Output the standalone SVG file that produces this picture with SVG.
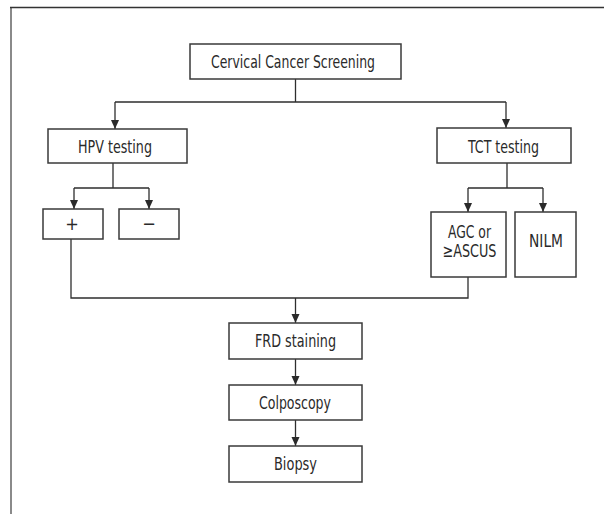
<svg xmlns="http://www.w3.org/2000/svg" width="604" height="514" viewBox="0 0 604 514">
<style>
.box{fill:#fff;stroke:#3a3a3a;stroke-width:1.5}
.lbl{font-family:"Liberation Sans Narrow","DejaVu Sans Condensed","Liberation Sans",Arial,sans-serif;font-size:18px;fill:#2a2a2a;text-anchor:middle}
.con{fill:none;stroke:#2e2e2e;stroke-width:1.3}
</style>
<defs>
<marker id="ah" markerUnits="userSpaceOnUse" markerWidth="10" markerHeight="10" refX="9" refY="4" orient="auto">
<path d="M0,0 L9,4 L0,8 Z" fill="#2a2a2a"/>
</marker>
</defs>
<rect width="604" height="514" fill="#fff"/>
<g id="frame">
<line x1="11" y1="7" x2="11" y2="514" stroke="#8a8a8a" stroke-width="2"/>
<line x1="10" y1="7.5" x2="604" y2="7.5" stroke="#333" stroke-width="1.5"/>
</g>
<g id="connectors">
<path class="con" d="M295.5 79 V102 M115 102 H506"/>
<path class="con" d="M115 102 V129" marker-end="url(#ah)"/>
<path class="con" d="M506 102 V128" marker-end="url(#ah)"/>
<path class="con" d="M113 163 V188 M74 188 H149"/>
<path class="con" d="M74 188 V209" marker-end="url(#ah)"/>
<path class="con" d="M149 188 V209" marker-end="url(#ah)"/>
<path class="con" d="M507 163 V188 M468 188 H543"/>
<path class="con" d="M468 188 V212" marker-end="url(#ah)"/>
<path class="con" d="M543 188 V212" marker-end="url(#ah)"/>
<path class="con" d="M71 239 V298 H468 V277"/>
<path class="con" d="M295.5 298 V323" marker-end="url(#ah)"/>
<path class="con" d="M295.5 359 V385" marker-end="url(#ah)"/>
<path class="con" d="M295.5 420 V446" marker-end="url(#ah)"/>
</g>
<g id="screening">
<rect class="box" x="190" y="44" width="211" height="35"/>
<text class="lbl" x="293" y="68" textLength="164" lengthAdjust="spacingAndGlyphs">Cervical Cancer Screening</text>
</g>
<g id="hpv">
<rect class="box" x="48" y="129" width="139" height="34"/>
<text class="lbl" x="115" y="153" textLength="74" lengthAdjust="spacingAndGlyphs">HPV testing</text>
</g>
<g id="tct">
<rect class="box" x="437" y="128" width="134" height="35"/>
<text class="lbl" x="503.5" y="153" textLength="71" lengthAdjust="spacingAndGlyphs">TCT testing</text>
</g>
<g id="pos">
<rect class="box" x="43" y="209" width="60" height="30"/>
<text class="lbl" x="72" y="230">+</text>
</g>
<g id="neg">
<rect class="box" x="119" y="209" width="60" height="30"/>
<text class="lbl" x="149" y="230">−</text>
</g>
<g id="agc">
<rect class="box" x="431" y="212" width="75" height="65"/>
<text class="lbl" x="469.5" y="238" textLength="43" lengthAdjust="spacingAndGlyphs">AGC or</text>
<text class="lbl" x="469.5" y="257" textLength="54" lengthAdjust="spacingAndGlyphs">≥ASCUS</text>
</g>
<g id="nilm">
<rect class="box" x="515" y="212" width="61" height="65"/>
<text class="lbl" x="546" y="247" textLength="34" lengthAdjust="spacingAndGlyphs">NILM</text>
</g>
<g id="frd">
<rect class="box" x="229" y="323" width="133" height="36"/>
<text class="lbl" x="295.5" y="347" textLength="81" lengthAdjust="spacingAndGlyphs">FRD staining</text>
</g>
<g id="colposcopy">
<rect class="box" x="229" y="385" width="133" height="35"/>
<text class="lbl" x="295" y="409" textLength="72" lengthAdjust="spacingAndGlyphs">Colposcopy</text>
</g>
<g id="biopsy">
<rect class="box" x="229" y="446" width="133" height="36"/>
<text class="lbl" x="295.5" y="470" textLength="43" lengthAdjust="spacingAndGlyphs">Biopsy</text>
</g>
</svg>
